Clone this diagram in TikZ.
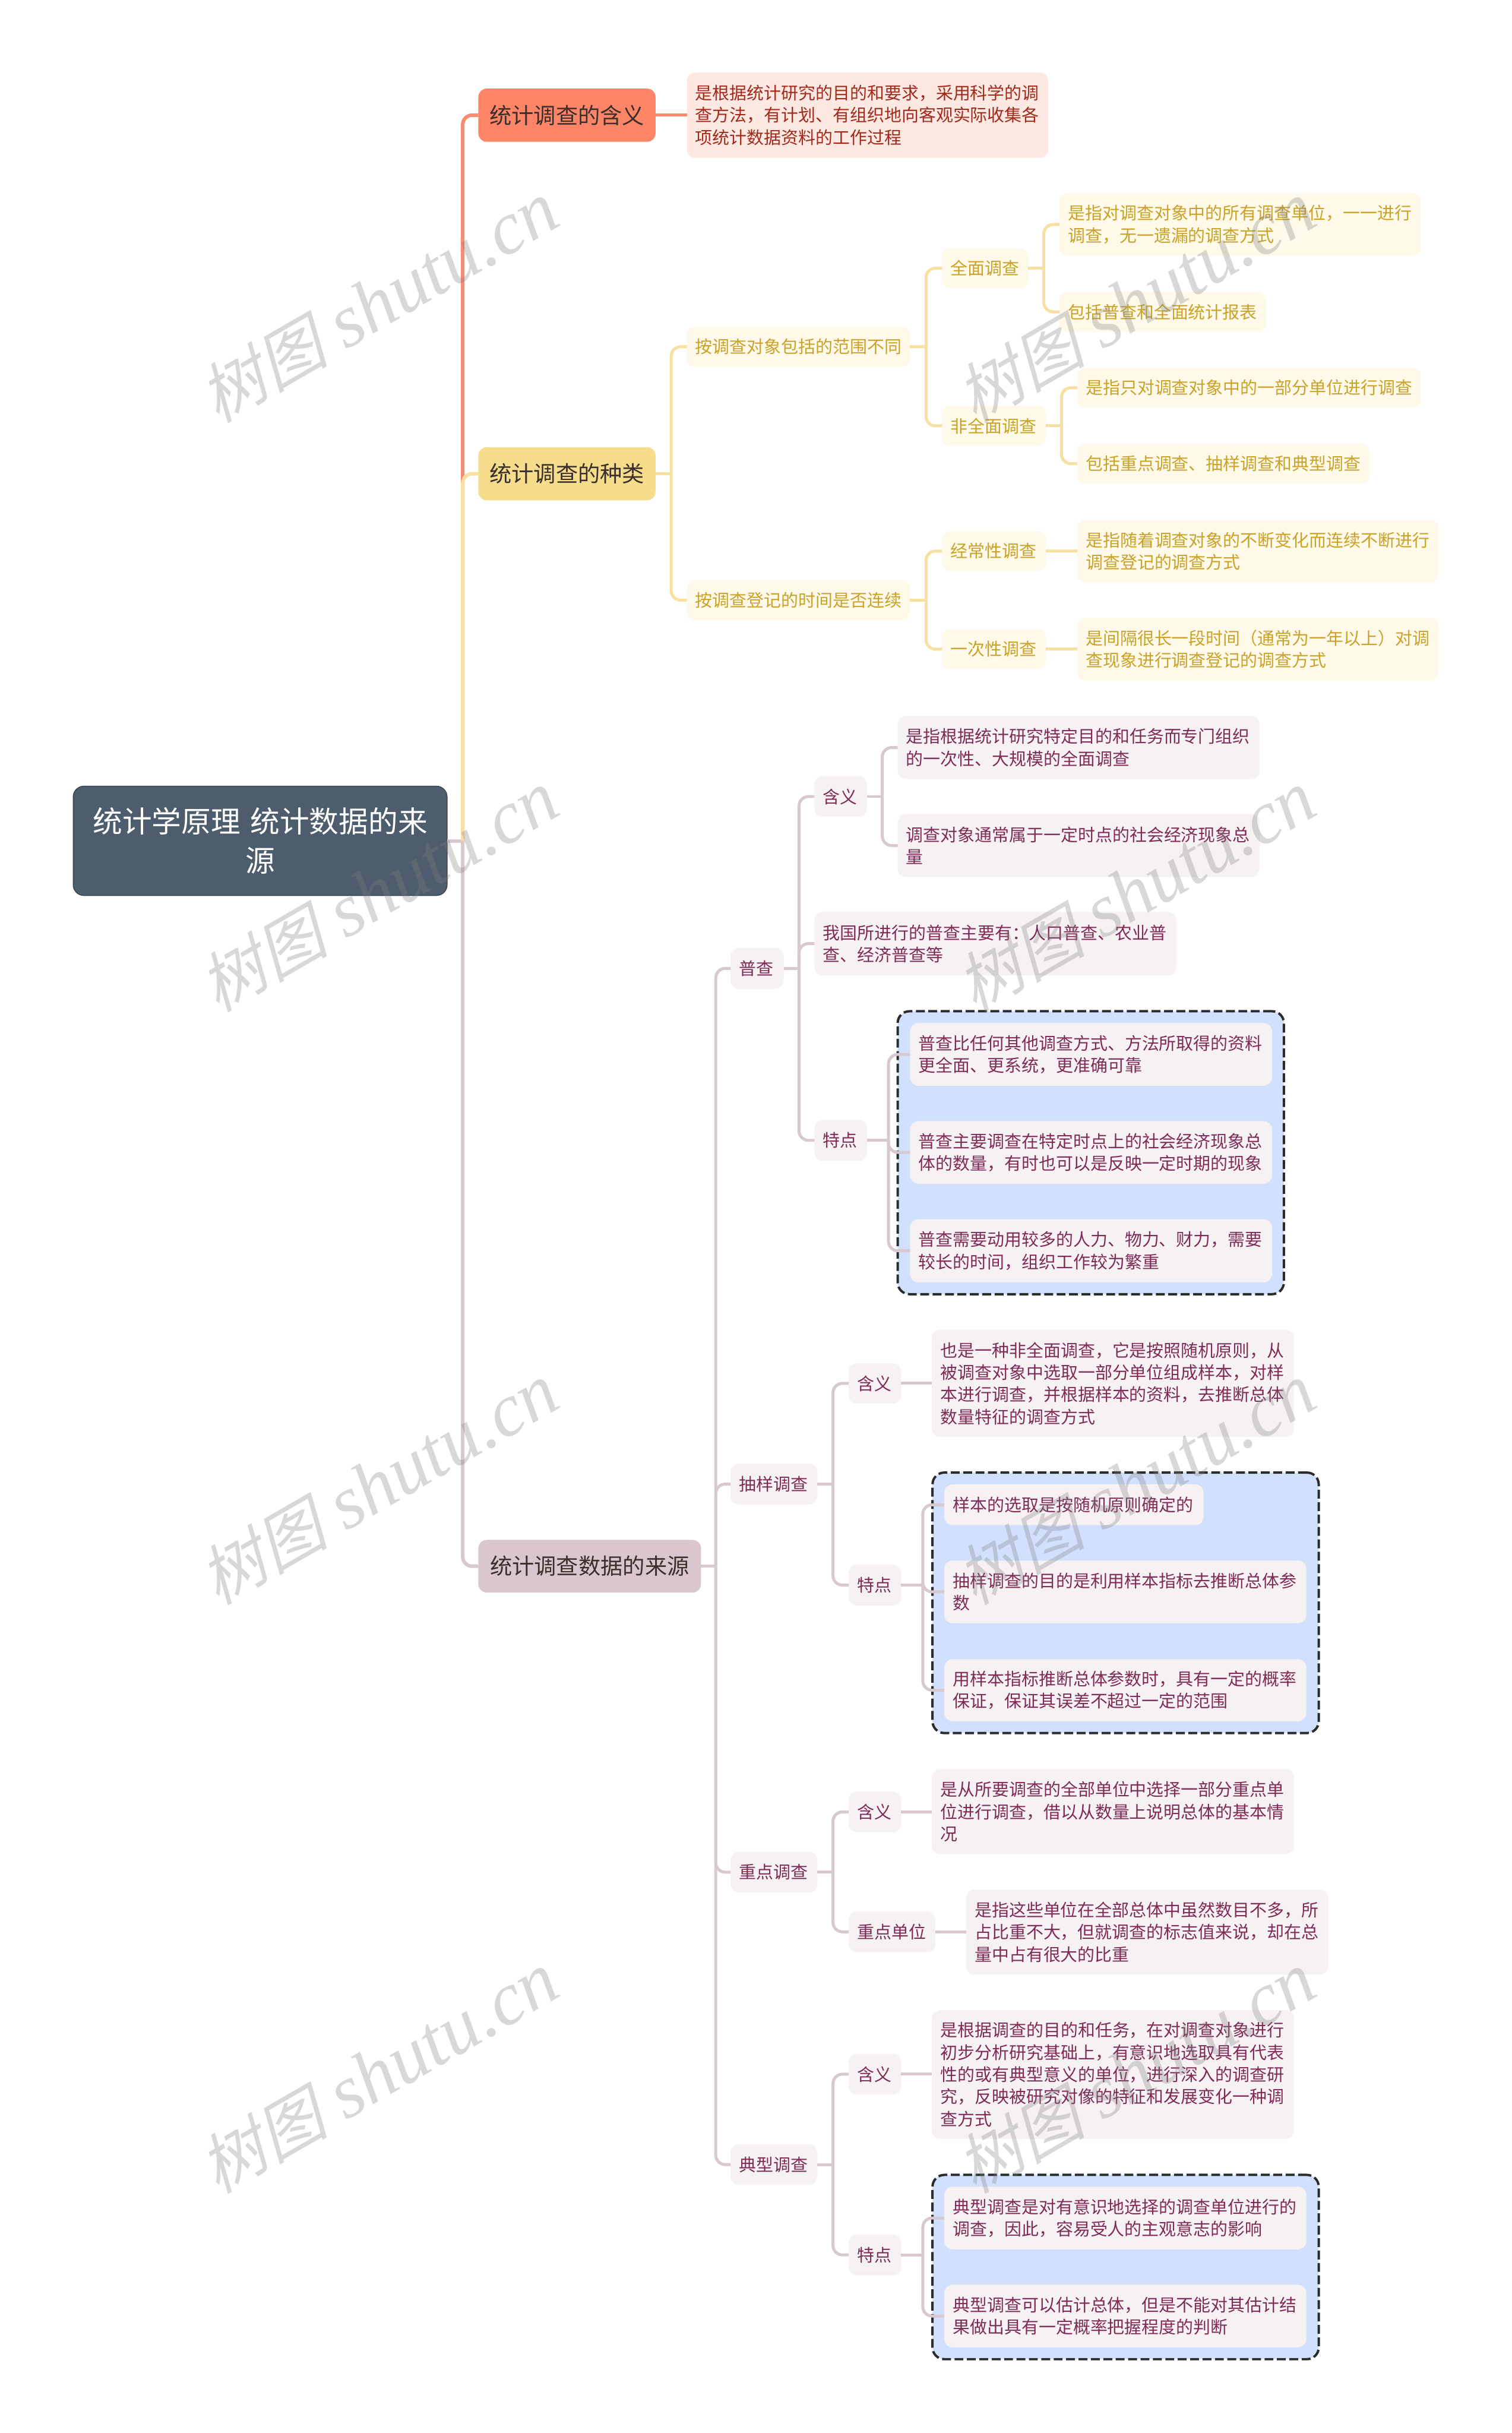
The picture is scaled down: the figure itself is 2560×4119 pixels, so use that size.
\documentclass[tikz,border=0pt]{standalone}
\usepackage{fontspec}
\usetikzlibrary{calc}
\setmainfont{Noto Sans CJK SC}
\newfontfamily\wmcjk[FakeSlant=0.25]{Noto Sans CJK SC}
\newfontfamily\wmlat{Liberation Serif}
\definecolor{rootfill}{HTML}{4D5D6D}
\definecolor{rootedge}{HTML}{3A4652}
\definecolor{redfill}{HTML}{FF8568}
\definecolor{redline}{HTML}{FB8A6E}
\definecolor{redsub}{HTML}{FDE8E2}
\definecolor{redtext}{HTML}{A3291B}
\definecolor{yelfill}{HTML}{F6DD8C}
\definecolor{yelline}{HTML}{F8E0A0}
\definecolor{yelsub}{HTML}{FEF9E9}
\definecolor{yeltext}{HTML}{C9A227}
\definecolor{purfill}{HTML}{D9C6CF}
\definecolor{purline}{HTML}{D8C8D0}
\definecolor{pursub}{HTML}{F6F2F4}
\definecolor{purtext}{HTML}{7F2B55}
\definecolor{l1text}{HTML}{3A2F2A}
\definecolor{bluefill}{HTML}{D1E1FD}
\definecolor{dashedge}{HTML}{2B2B2B}
\tikzset{
  basebox/.style={rectangle,rounded corners=14pt,inner sep=0pt,outer sep=0pt,align=left},
  rootbox/.style={basebox,rounded corners=18pt,fill=rootfill,draw=rootedge,line width=1.5pt,text=white,align=center,font=\fontsize{50}{67}\selectfont},
  redtop/.style={basebox,fill=redfill,text=l1text,align=center,font=\fontsize{37.5}{48}\selectfont},
  yeltop/.style={basebox,fill=yelfill,text=l1text,align=center,font=\fontsize{37.5}{48}\selectfont},
  purtop/.style={basebox,fill=purfill,text=l1text,align=center,font=\fontsize{37.5}{48}\selectfont},
  redleaf/.style={basebox,fill=redsub,text=redtext,font=\fontsize{29.1}{37.5}\selectfont},
  yelleaf/.style={basebox,fill=yelsub,text=yeltext,font=\fontsize{29.1}{37.5}\selectfont},
  purleaf/.style={basebox,fill=pursub,text=purtext,font=\fontsize{29.1}{37.5}\selectfont},
  dashgroup/.style={rectangle,rounded corners=20pt,inner sep=0pt,outer sep=0pt,fill=bluefill,draw=dashedge,line width=4pt,dash pattern=on 15pt off 6pt},
  redmain/.style={draw=redline,line width=6pt},
  yelmain/.style={draw=yelline,line width=6pt},
  purmain/.style={draw=purline,line width=6pt},
  yellink/.style={draw=yelline,line width=5pt},
  purlink/.style={draw=purline,line width=5pt},
  redlink/.style={draw=redline,line width=5pt},
  watermark/.style={rotate=30,text=gray,opacity=.3,inner sep=0pt}
}
% style, name, x1, y1, x2, y2, text
\newcommand{\bx}[7]{%
  \pgfmathsetmacro\bxw{#5-#3}\pgfmathsetmacro\bxh{#6-#4}\pgfmathsetmacro\bxt{#5-#3-29}%
  \pgfmathsetmacro\bxcx{(#3+#5)/2}\pgfmathsetmacro\bxcy{(#4+#6)/2}%
  \node[#1,minimum width=\bxw pt,minimum height=\bxh pt,text width=\bxt pt] (#2) at (\bxcx,\bxcy) {#7};}
\newcommand{\grp}[6]{%
  \pgfmathsetmacro\bxw{#4-#2}\pgfmathsetmacro\bxh{#5-#3}%
  \pgfmathsetmacro\bxcx{(#2+#4)/2}\pgfmathsetmacro\bxcy{(#3+#5)/2}%
  \node[dashgroup,minimum width=\bxw pt,minimum height=\bxh pt] (#1) at (\bxcx,\bxcy) {#6};}
% branch only: style, parent, child
\newcommand{\connB}[3]{%
  \draw[#1,rounded corners=16pt] ($(#2.east)!.5!(#2.east -| #3.west)$) |- (#3.west);}
% stub and branch: style, parent, child
\newcommand{\conn}[3]{%
  \draw[#1] (#2.east) -- ($(#2.east)!.5!(#2.east -| #3.west)$);
  \connB{#1}{#2}{#3}}
\newcommand{\connS}[3]{\draw[#1] (#2.east) -- (#2.east -| #3.west);}
\newcommand{\wm}[3]{\node[watermark] (#1) at (#2,#3) {{\wmcjk\fontsize{110}{110}\selectfont 树图}\hspace{30pt}{\wmlat\itshape\fontsize{127}{127}\selectfont shutu.cn}};}
\begin{document}
\begin{tikzpicture}[x=1pt,y=-1pt]
\fill[white] (0,0) rectangle (2560,4119);
\useasboundingbox (0,0) rectangle (2560,4119);
% dashed groups
\grp{gpc}{1520}{1712}{2174}{2191}{}
\grp{gcy}{1579}{2493}{2233}{2934}{}
\grp{gdx}{1579}{3682}{2233}{3994}{}
% root and main topics
\bx{rootbox}{root}{124}{1331}{757}{1516}{统计学原理 统计数据的来\\源}
\bx{redtop}{t1}{810}{150}{1110}{240}{统计调查的含义}
\bx{yeltop}{t2}{810}{757}{1110}{847}{统计调查的种类}
\bx{purtop}{t3}{810}{2607}{1187}{2696}{统计调查数据的来源}
% red
\bx{redleaf}{t1a}{1163}{123}{1775}{267}{是根据统计研究的目的和要求，采用科学的调\\查方法，有计划、有组织地向客观实际收集各\\项统计数据资料的工作过程}
% yellow
\bx{yelleaf}{y1}{1163}{553}{1541}{621}{按调查对象包括的范围不同}
\bx{yelleaf}{y2}{1163}{982}{1541}{1050}{按调查登记的时间是否连续}
\bx{yelleaf}{y11}{1595}{420}{1741}{488}{全面调查}
\bx{yelleaf}{y12}{1595}{687}{1771}{755}{非全面调查}
\bx{yelleaf}{y21}{1595}{899}{1771}{967}{经常性调查}
\bx{yelleaf}{y22}{1595}{1065}{1771}{1133}{一次性调查}
\bx{yelleaf}{y111}{1794}{327}{2406}{433}{是指对调查对象中的所有调查单位，一一进行\\调查，无一遗漏的调查方式}
\bx{yelleaf}{y112}{1794}{494}{2144}{562}{包括普查和全面统计报表}
\bx{yelleaf}{y121}{1824}{623}{2406}{690}{是指只对调查对象中的一部分单位进行调查}
\bx{yelleaf}{y122}{1824}{751}{2319}{819}{包括重点调查、抽样调查和典型调查}
\bx{yelleaf}{y211}{1824}{880}{2436}{986}{是指随着调查对象的不断变化而连续不断进行\\调查登记的调查方式}
\bx{yelleaf}{y221}{1824}{1046}{2436}{1152}{是间隔很长一段时间（通常为一年以上）对调\\查现象进行调查登记的调查方式}
% purple: census
\bx{purleaf}{pc}{1237}{1605}{1327}{1674}{普查}
\bx{purleaf}{pc1}{1379}{1314}{1468}{1383}{含义}
\bx{purleaf}{pc2}{1379}{1544}{1992}{1651}{我国所进行的普查主要有：人口普查、农业普\\查、经济普查等}
\bx{purleaf}{pc3}{1379}{1896}{1468}{1965}{特点}
\bx{purleaf}{pc11}{1520}{1212}{2133}{1319}{是指根据统计研究特定目的和任务而专门组织\\的一次性、大规模的全面调查}
\bx{purleaf}{pc12}{1520}{1378}{2133}{1485}{调查对象通常属于一定时点的社会经济现象总\\量}
\bx{purleaf}{pc31}{1541}{1732}{2154}{1838}{普查比任何其他调查方式、方法所取得的资料\\更全面、更系统，更准确可靠}
\bx{purleaf}{pc32}{1541}{1898}{2154}{2004}{普查主要调查在特定时点上的社会经济现象总\\体的数量，有时也可以是反映一定时期的现象}
\bx{purleaf}{pc33}{1541}{2064}{2154}{2171}{普查需要动用较多的人力、物力、财力，需要\\较长的时间，组织工作较为繁重}
% purple: sampling
\bx{purleaf}{cy}{1237}{2478}{1384}{2547}{抽样调查}
\bx{purleaf}{cy1}{1437}{2308}{1526}{2376}{含义}
\bx{purleaf}{cy2}{1437}{2649}{1526}{2718}{特点}
\bx{purleaf}{cy11}{1578}{2251}{2191}{2433}{也是一种非全面调查，它是按照随机原则，从\\被调查对象中选取一部分单位组成样本，对样\\本进行调查，并根据样本的资料，去推断总体\\数量特征的调查方式}
\bx{purleaf}{cy21}{1599}{2513}{2038}{2582}{样本的选取是按随机原则确定的}
\bx{purleaf}{cy22}{1599}{2642}{2212}{2748}{抽样调查的目的是利用样本指标去推断总体参\\数}
\bx{purleaf}{cy23}{1599}{2809}{2212}{2914}{用样本指标推断总体参数时，具有一定的概率\\保证，保证其误差不超过一定的范围}
% purple: key
\bx{purleaf}{zd}{1237}{3135}{1384}{3204}{重点调查}
\bx{purleaf}{zd1}{1437}{3033}{1526}{3102}{含义}
\bx{purleaf}{zd2}{1437}{3236}{1584}{3305}{重点单位}
\bx{purleaf}{zd11}{1578}{2995}{2191}{3139}{是从所要调查的全部单位中选择一部分重点单\\位进行调查，借以从数量上说明总体的基本情\\况}
\bx{purleaf}{zd21}{1636}{3199}{2249}{3343}{是指这些单位在全部总体中虽然数目不多，所\\占比重不大，但就调查的标志值来说，却在总\\量中占有很大的比重}
% purple: typical
\bx{purleaf}{dx}{1237}{3630}{1384}{3699}{典型调查}
\bx{purleaf}{dx1}{1437}{3477}{1526}{3546}{含义}
\bx{purleaf}{dx2}{1437}{3783}{1526}{3852}{特点}
\bx{purleaf}{dx11}{1578}{3403}{2191}{3621}{是根据调查的目的和任务，在对调查对象进行\\初步分析研究基础上，有意识地选取具有代表\\性的或有典型意义的单位，进行深入的调查研\\究，反映被研究对像的特征和发展变化一种调\\查方式}
\bx{purleaf}{dx21}{1599}{3702}{2212}{3808}{典型调查是对有意识地选择的调查单位进行的\\调查，因此，容易受人的主观意志的影响}
\bx{purleaf}{dx22}{1599}{3868}{2212}{3974}{典型调查可以估计总体，但是不能对其估计结\\果做出具有一定概率把握程度的判断}
% connectors
\conn{purmain}{root}{t3}
\connB{redmain}{root}{t1}
\connB{yelmain}{root}{t2}
\connS{redlink}{t1}{t1a}
\conn{yellink}{t2}{y1}
\conn{yellink}{t2}{y2}
\conn{yellink}{y1}{y11}
\conn{yellink}{y1}{y12}
\conn{yellink}{y2}{y21}
\conn{yellink}{y2}{y22}
\conn{yellink}{y11}{y111}
\conn{yellink}{y11}{y112}
\conn{yellink}{y12}{y121}
\conn{yellink}{y12}{y122}
\connS{yellink}{y21}{y211}
\connS{yellink}{y22}{y221}
\conn{purlink}{t3}{pc}
\conn{purlink}{t3}{cy}
\conn{purlink}{t3}{zd}
\conn{purlink}{t3}{dx}
\conn{purlink}{pc}{pc1}
\conn{purlink}{pc}{pc2}
\conn{purlink}{pc}{pc3}
\conn{purlink}{pc1}{pc11}
\conn{purlink}{pc1}{pc12}
\conn{purlink}{pc3}{pc31}
\conn{purlink}{pc3}{pc32}
\conn{purlink}{pc3}{pc33}
\conn{purlink}{cy}{cy1}
\conn{purlink}{cy}{cy2}
\connS{purlink}{cy1}{cy11}
\conn{purlink}{cy2}{cy21}
\conn{purlink}{cy2}{cy22}
\conn{purlink}{cy2}{cy23}
\conn{purlink}{zd}{zd1}
\conn{purlink}{zd}{zd2}
\connS{purlink}{zd1}{zd11}
\connS{purlink}{zd2}{zd21}
\conn{purlink}{dx}{dx1}
\conn{purlink}{dx}{dx2}
\connS{purlink}{dx1}{dx11}
\conn{purlink}{dx2}{dx21}
\conn{purlink}{dx2}{dx22}
% watermarks
\wm{w1}{641}{512}
\wm{w2}{1923}{512}
\wm{w3}{641}{1510}
\wm{w4}{1923}{1510}
\wm{w5}{641}{2513}
\wm{w6}{1923}{2513}
\wm{w7}{641}{3510}
\wm{w8}{1923}{3510}
\end{tikzpicture}
\end{document}
